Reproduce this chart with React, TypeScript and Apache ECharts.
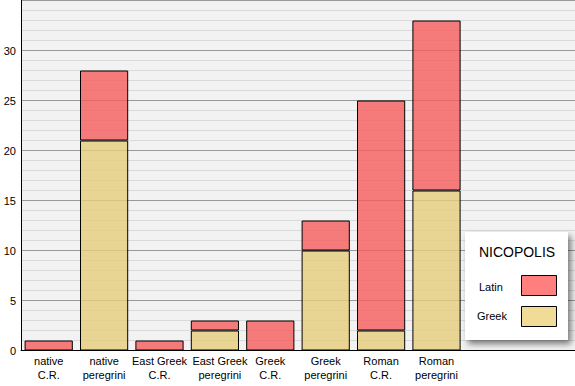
import React, { useEffect, useRef } from "react";
import * as echarts from "echarts";

const categories = [
  "native\nC.R.",
  "native\nperegrini",
  "East Greek\nC.R.",
  "East Greek\nperegrini",
  "Greek\nC.R.",
  "Greek\nperegrini",
  "Roman\nC.R.",
  "Roman\nperegrini",
  "",
  "",
];
const greekValues = [0, 21, 0, 2, 0, 10, 2, 16];
const latinValues = [1, 7, 1, 1, 3, 3, 23, 17];
const legendTitle = "NICOPOLIS";
const seriesNames = ["Latin", "Greek"];

const FONT = "'Liberation Sans', Arial, sans-serif";

export default function App() {
  const ref = useRef<HTMLDivElement>(null);
  useEffect(() => {
    if (!ref.current) return;
    const chart = echarts.init(ref.current, undefined, { renderer: "svg" });
    const categoryData = categories.map((c, i) =>
      i === 3 ? { value: c, textStyle: { padding: [0, 0, 0, 10] } } : c
    );
    chart.setOption({
      animation: false,
      backgroundColor: "#ffffff",
      textStyle: { fontFamily: FONT },
      grid: {
        left: 21,
        top: 0.5,
        right: 0,
        bottom: 35.5,
        show: true,
        backgroundColor: "#f2f2f2",
        borderWidth: 0,
        containLabel: false,
        outerBoundsMode: "none",
      },
      xAxis: {
        type: "category",
        data: categoryData,
        axisLine: { show: true, lineStyle: { color: "#000", width: 1 } },
        axisTick: { show: false },
        axisLabel: {
          interval: 0,
          color: "#000",
          fontSize: 11,
          lineHeight: 14,
          margin: 3,
          fontFamily: FONT,
        },
      },
      yAxis: {
        type: "value",
        min: 0,
        max: 35,
        interval: 5,
        axisLine: { show: true, lineStyle: { color: "#000", width: 1 } },
        axisTick: { show: false },
        axisLabel: {
          color: "#000",
          fontSize: 11,
          margin: 5,
          fontFamily: FONT,
          showMaxLabel: false,
        },
        splitLine: { show: true, lineStyle: { color: "#999999", width: 1 } },
        minorTick: { show: false, splitNumber: 5 },
        minorSplitLine: { show: true, lineStyle: { color: "#d9d9d9", width: 1 } },
      },
      series: [
        {
          name: seriesNames[1],
          type: "bar",
          stack: "total",
          data: greekValues,
          barCategoryGap: "13%",
          itemStyle: {
            color: "rgba(230,205,123,0.8)",
            borderColor: "#000",
            borderWidth: 1,
          },
        },
        {
          name: seriesNames[0],
          type: "bar",
          stack: "total",
          data: latinValues,
          barCategoryGap: "13%",
          itemStyle: {
            color: "rgba(245,92,92,0.8)",
            borderColor: "#000",
            borderWidth: 1,
          },
        },
      ],
      graphic: [
        {
          type: "group",
          left: 465,
          top: 232,
          z: 100,
          children: [
            {
              type: "rect",
              z: 100,
              shape: { x: 0, y: 0, width: 103, height: 108 },
              style: {
                fill: "#ffffff",
                shadowBlur: 6,
                shadowOffsetX: 3,
                shadowOffsetY: 4,
                shadowColor: "rgba(0,0,0,0.5)",
              },
            },
            {
              type: "text",
              z: 101,
              x: 52,
              y: 20,
              style: {
                text: legendTitle,
                fill: "#000",
                font: `14px ${FONT}`,
                align: "center",
                verticalAlign: "middle",
              },
            },
            {
              type: "text",
              z: 101,
              x: 14,
              y: 55,
              style: {
                text: seriesNames[0],
                fill: "#000",
                font: `11px ${FONT}`,
                align: "left",
                verticalAlign: "middle",
              },
            },
            {
              type: "rect",
              z: 101,
              shape: { x: 56.5, y: 43.5, width: 35, height: 20 },
              style: { fill: "#ff7f7f", stroke: "#000", lineWidth: 1 },
            },
            {
              type: "text",
              z: 101,
              x: 12,
              y: 84,
              style: {
                text: seriesNames[1],
                fill: "#000",
                font: `11px ${FONT}`,
                align: "left",
                verticalAlign: "middle",
              },
            },
            {
              type: "rect",
              z: 101,
              shape: { x: 56.5, y: 74.5, width: 35, height: 20 },
              style: { fill: "#f0dc96", stroke: "#000", lineWidth: 1 },
            },
          ],
        },
      ],
    });
    return () => chart.dispose();
  }, []);
  return (
    <div
      ref={ref}
      style={{ position: "fixed", left: 0, top: 0, width: 575, height: 386 }}
    />
  );
}
